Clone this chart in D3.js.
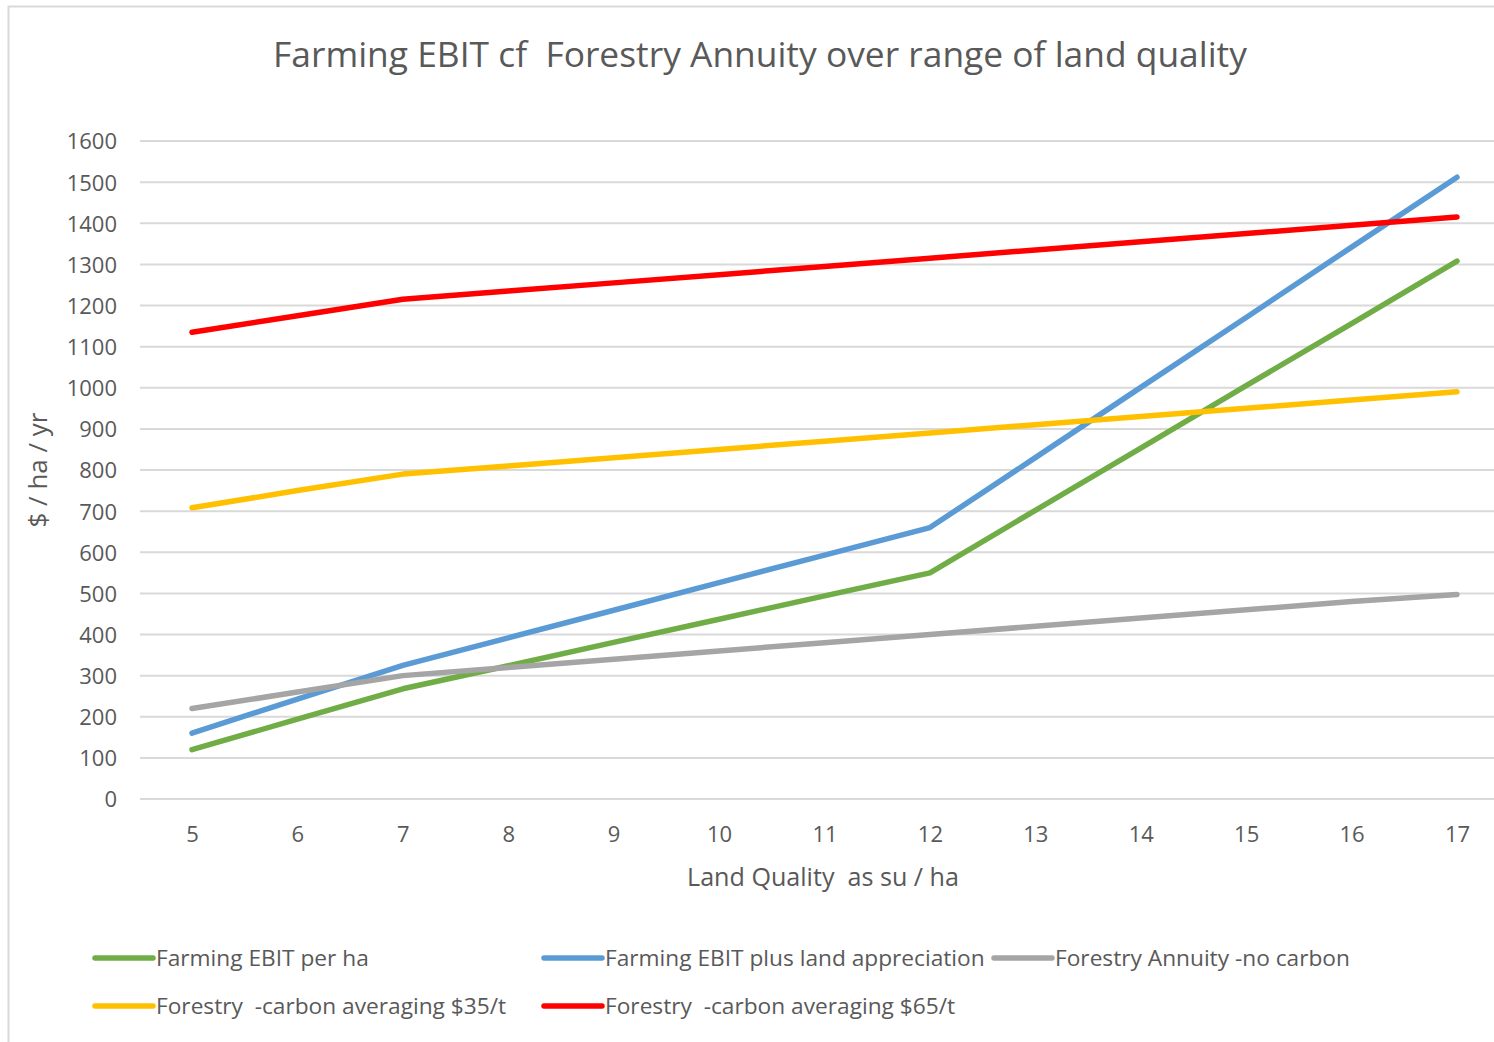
<!DOCTYPE html>
<html>
<head>
<meta charset="utf-8">
<script src="https://cdn.jsdelivr.net/npm/d3@7"></script>
<style>
  body { margin: 0; background: #fff; }
  text { font-family: "Open Sans", "Noto Sans", sans-serif; fill: #595959; }
</style>
</head>
<body>
<svg id="chart" width="1494" height="1042"></svg>
<script>
// land quality categories (su / ha)
const categories = [5, 6, 7, 8, 9, 10, 11, 12, 13, 14, 15, 16, 17]
const yTicks = [0, 100, 200, 300, 400, 500, 600, 700, 800, 900, 1000, 1100, 1200, 1300, 1400, 1500, 1600]

const farmingEbit     = [120, 194, 268, 324, 381, 437, 494, 550, 702, 853, 1005, 1156, 1308]
const farmingPlusLand = [160, 243, 325, 392, 459, 526, 593, 660, 830, 1001, 1171, 1342, 1512]
const forestryNoCarbon = [220, 260, 300, 320, 340, 360, 380, 400, 420, 440, 460, 480, 497]
const forestry35 = [708, 750, 790, 810, 830, 850, 870, 890, 910, 930, 950, 970, 990]
const forestry65 = [1135, 1175, 1215, 1235, 1255, 1275, 1295, 1315, 1335, 1355, 1375, 1395, 1415]

const series = [
  { name: "Farming EBIT per ha", values: farmingEbit, color: "#70AD47" },
  { name: "Farming EBIT plus land appreciation", values: farmingPlusLand, color: "#5B9BD5" },
  { name: "Forestry Annuity -no carbon", values: forestryNoCarbon, color: "#A5A5A5" },
  { name: "Forestry  -carbon averaging $35/t", values: forestry35, color: "#FFC000" },
  { name: "Forestry  -carbon averaging $65/t", values: forestry65, color: "#FF0000" }
]

const svg = d3.select("#chart")

// outer chart border (only left/top visible in the crop)
svg.append("path")
  .attr("d", "M8.5,1042 L8.5,6.5 L1494,6.5")
  .attr("fill", "none")
  .attr("stroke", "#d9d9d9")
  .attr("stroke-width", 2)

const x = d3.scalePoint().domain(categories).range([192, 1457])
const y = d3.scaleLinear().domain([0, 1600]).range([799, 141])

function fit(sel, width) {
  const len = sel.node().getComputedTextLength()
  const fs = parseFloat(sel.attr("font-size"))
  sel.attr("font-size", fs * width / len)
}

// title
svg.append("text")
  .attr("x", 760).attr("y", 67)
  .attr("text-anchor", "middle")
  .attr("font-size", 32)
  .style("white-space", "pre")
  .text("Farming EBIT cf  Forestry Annuity over range of land quality")
  .call(fit, 974)

// gridlines
svg.append("g")
  .selectAll("line")
  .data(yTicks)
  .join("line")
  .attr("x1", 140).attr("x2", 1494)
  .attr("y1", d => y(d)).attr("y2", d => y(d))
  .attr("stroke", "#d9d9d9")
  .attr("stroke-width", 2)

// y axis labels
const yAxis = svg.append("g")
  .attr("transform", "translate(117,0)")
  .call(d3.axisLeft(y).tickValues(yTicks).tickFormat(d3.format("d")).tickSize(0).tickPadding(0))
yAxis.select(".domain").remove()
yAxis.selectAll("text").attr("font-size", 22).attr("dy", "0.36em")
  .style("font-family", "\"Open Sans\", sans-serif").attr("fill", "#595959")

// x axis labels
const xAxis = svg.append("g")
  .attr("transform", "translate(0,826)")
  .call(d3.axisBottom(x).tickSize(0).tickPadding(0))
xAxis.select(".domain").remove()
xAxis.selectAll("text").attr("font-size", 22).attr("dy", "0.71em")
  .style("font-family", "\"Open Sans\", sans-serif").attr("fill", "#595959")

// axis titles
svg.append("text")
  .attr("x", 823).attr("y", 886)
  .attr("text-anchor", "middle")
  .attr("font-size", 25)
  .style("white-space", "pre")
  .text("Land Quality  as su / ha")
  .call(fit, 272)

svg.append("text")
  .attr("transform", "translate(47,470) rotate(-90)")
  .attr("text-anchor", "middle")
  .attr("font-size", 26)
  .text("$ / ha / yr")
  .call(fit, 115)

// lines
const line = d3.line()
  .x((d, i) => x(categories[i]))
  .y(d => y(d))

svg.append("g")
  .selectAll("path")
  .data(series)
  .join("path")
  .attr("d", d => line(d.values))
  .attr("fill", "none")
  .attr("stroke", d => d.color)
  .attr("stroke-width", 5.5)
  .attr("stroke-linecap", "round")
  .attr("stroke-linejoin", "round")

// legend
const legendPos = [[93, 958], [542, 958], [992, 958], [93, 1006], [542, 1006]]
const legend = svg.append("g")
  .selectAll("g")
  .data(series)
  .join("g")
  .attr("transform", (d, i) => `translate(${legendPos[i][0]},${legendPos[i][1]})`)

legend.append("line")
  .attr("x1", 2).attr("x2", 60)
  .attr("stroke", d => d.color)
  .attr("stroke-width", 5.5)
  .attr("stroke-linecap", "round")

legend.append("text")
  .attr("x", 63).attr("dy", "0.36em")
  .attr("font-size", 22.7)
  .style("white-space", "pre")
  .text(d => d.name)
</script>
</body>
</html>
